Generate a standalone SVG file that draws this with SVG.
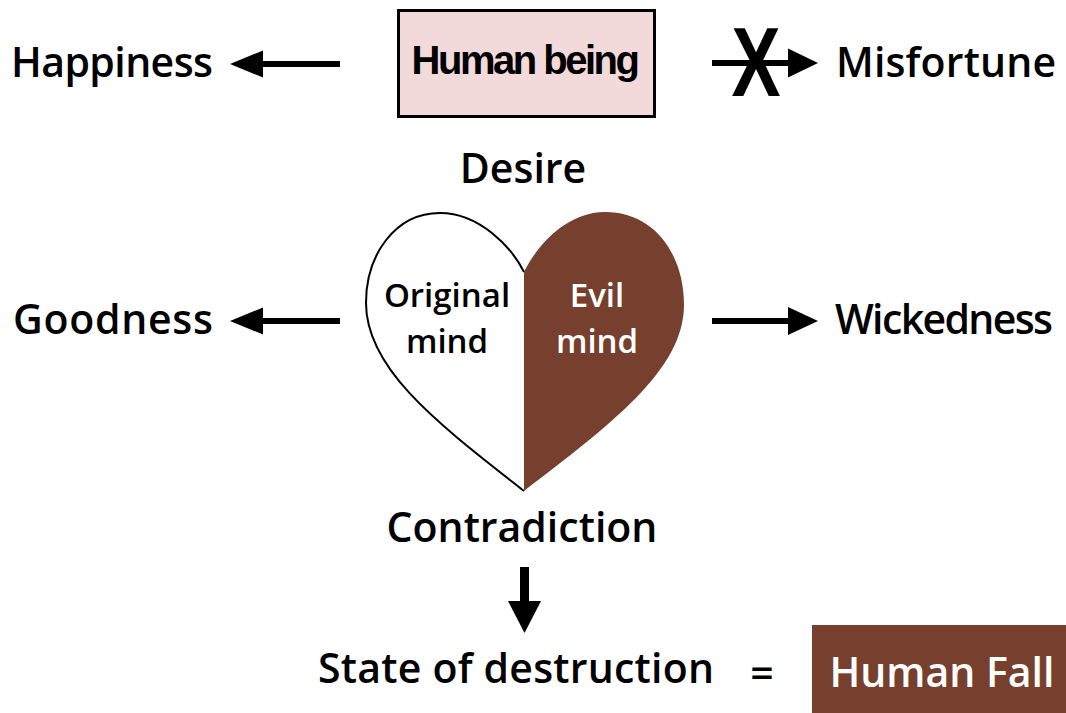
<svg xmlns="http://www.w3.org/2000/svg" width="1066" height="713" viewBox="0 0 1066 713">
<style>
.t{font-family:"Open Sans","Noto Sans","DejaVu Sans",sans-serif;font-weight:600;fill:#000}
.lbl{font-size:41px}
.hm{font-size:33px;text-anchor:middle}
.w{fill:#fff}
.ln{stroke:#000;stroke-width:6;fill:none}
.hd{fill:#000}
</style>
<rect width="1066" height="713" fill="#fff"/>
<g id="human-being">
<rect x="398.5" y="10.5" width="256" height="106" fill="#f2d9da" stroke="#000" stroke-width="3"/>
<text x="524.5" y="74" text-anchor="middle" style="font-family:'Liberation Sans',Arial,sans-serif;font-weight:700;font-size:40px;letter-spacing:-2.5px">Human being</text>
</g>
<g id="happiness"><text class="t lbl" x="11" y="77" textLength="202">Happiness</text></g>
<g id="misfortune"><text class="t lbl" x="836" y="77" textLength="220">Misfortune</text></g>
<g id="desire"><text class="t lbl" x="523" y="183" text-anchor="middle">Desire</text></g>
<g id="heart">
<path d="M524,272 C540,240 570,212 605,212 C655,212 684,255 684,305 C684,370 610,425 524,491 Z" fill="#773f2d"/>
<path d="M524,272 C512,248 480,213 440,213 C395,213 366,255 366,303 C366,370 440,425 524,491" fill="#fff" stroke="#000" stroke-width="2"/>
<text class="t hm" x="447" y="307">Original</text>
<text class="t hm" x="447" y="353">mind</text>
<text class="t hm w" x="597" y="307">Evil</text>
<text class="t hm w" x="597" y="353">mind</text>
</g>
<g id="goodness"><text class="t lbl" x="13" y="334" textLength="200">Goodness</text></g>
<g id="wickedness"><text class="t lbl" x="835" y="334" textLength="218">Wickedness</text></g>
<g id="contradiction"><text class="t lbl" x="522" y="542" text-anchor="middle">Contradiction</text></g>
<g id="state"><text class="t lbl" x="318" y="683" textLength="396">State of destruction</text>
<text class="t lbl" x="762" y="688" text-anchor="middle">=</text></g>
<g id="human-fall">
<rect x="812" y="625" width="254" height="88" fill="#773f2d"/>
<text class="t lbl w" x="942" y="687" text-anchor="middle">Human Fall</text>
</g>
<g id="connectors">
<line class="ln" x1="340" y1="64" x2="258" y2="64"/>
<polygon class="hd" points="230,64 263,50.5 263,77.5"/>
<line class="ln" x1="712" y1="63" x2="792" y2="63"/>
<polygon class="hd" points="818,63 788,48.5 788,77.5"/>
<text x="0" y="96" transform="translate(756,0) scale(0.75,1)" text-anchor="middle" style="font-family:'Liberation Sans',Arial,sans-serif;font-weight:700;font-size:98px;fill:#000">X</text>
<line class="ln" x1="340" y1="321" x2="258" y2="321"/>
<polygon class="hd" points="230,321 263,307.5 263,334.5"/>
<line class="ln" x1="712" y1="321" x2="792" y2="321"/>
<polygon class="hd" points="818,321 788,307 788,335"/>
<line x1="524.5" y1="567" x2="524.5" y2="606" stroke="#000" stroke-width="9"/>
<polygon class="hd" points="524.5,633 508,601 541,601"/>
</g>
</svg>
